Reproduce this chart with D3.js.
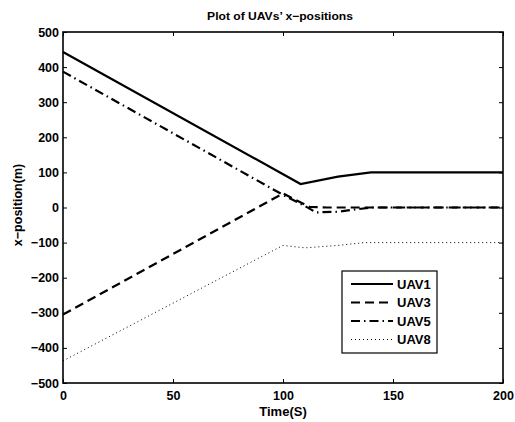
<!DOCTYPE html>
<html>
<head>
<meta charset="utf-8">
<script src="https://cdn.jsdelivr.net/npm/d3@7"></script>
<style>
  body { margin: 0; background: #fff; }
  text { font-family: "Liberation Sans", Arial, sans-serif; font-weight: bold; }
</style>
</head>
<body>
<svg width="515" height="422"></svg>
<script>
// series: [time, x-position]
const uav1 = [[0, 443], [108, 67], [125, 88], [140, 100], [200, 100]];
const uav3 = [[0, -305], [100, 40], [112, 2], [120, 0], [200, 0]];
const uav5 = [[0, 387], [100, 36], [110, 4], [115, -14], [125, -12], [140, 0], [200, 0]];
const uav8 = [[0, -437], [100, -108], [110, -115], [125, -108], [137, -100], [200, -100]];

const xTicks = [0, 50, 100, 150, 200];
const yTicks = [-500, -400, -300, -200, -100, 0, 100, 200, 300, 400, 500];

const series = [
  { name: 'UAV1', data: uav1, dash: null, width: 2.2 },
  { name: 'UAV3', data: uav3, dash: '9,5', width: 2.2 },
  { name: 'UAV5', data: uav5, dash: '9,4,1.5,4', width: 2.2 },
  { name: 'UAV8', data: uav8, dash: '1,3', width: 1 }
];

const svg = d3.select('svg');
const m = { left: 63, right: 503, top: 32, bottom: 383 };

const x = d3.scaleLinear().domain([0, 200]).range([m.left, m.right]);
const y = d3.scaleLinear().domain([-500, 500]).range([m.bottom, m.top]);

const line = d3.line().x(d => x(d[0])).y(d => y(d[1]));

// lines
svg.append('g')
  .selectAll('path')
  .data(series)
  .enter()
  .append('path')
  .attr('d', d => line(d.data))
  .attr('fill', 'none')
  .attr('stroke', '#000')
  .attr('stroke-width', d => d.width)
  .attr('stroke-dasharray', d => d.dash);

// axes, ticks pointing inward like matlab
const tk = 4;
svg.append('g')
  .attr('transform', `translate(0,${m.bottom})`)
  .call(d3.axisBottom(x).tickValues(xTicks).tickSizeInner(-tk).tickSizeOuter(0).tickPadding(8))
  .call(g => g.selectAll('text').attr('font-size', 12.5).attr('fill', '#000'));
svg.append('g')
  .attr('transform', `translate(${m.left},0)`)
  .call(d3.axisLeft(y).tickValues(yTicks).tickFormat(d => d3.format('d')(d).replace('-', '\u2212')).tickSizeInner(-tk).tickSizeOuter(0).tickPadding(4))
  .call(g => g.selectAll('text').attr('font-size', 12.5).attr('fill', '#000'));
svg.append('g')
  .attr('transform', `translate(0,${m.top})`)
  .call(d3.axisTop(x).tickValues(xTicks).tickSizeInner(-tk).tickSizeOuter(0).tickFormat(''));
svg.append('g')
  .attr('transform', `translate(${m.right},0)`)
  .call(d3.axisRight(y).tickValues(yTicks).tickSizeInner(-tk).tickSizeOuter(0).tickFormat(''));
svg.selectAll('.domain').remove();
svg.selectAll('.tick line').attr('stroke', '#000').attr('stroke-width', 1);

// box
svg.append('rect')
  .attr('x', m.left).attr('y', m.top)
  .attr('width', m.right - m.left).attr('height', m.bottom - m.top)
  .attr('fill', 'none').attr('stroke', '#000').attr('stroke-width', 1.6);

// labels
svg.append('text')
  .attr('transform', `translate(280,20) scale(1.1,1)`)
  .attr('text-anchor', 'middle').attr('font-size', 11)
  .text('Plot of UAVs\u2019 x\u2212positions');
svg.append('text')
  .attr('x', (m.left + m.right) / 2).attr('y', 416)
  .attr('text-anchor', 'middle').attr('font-size', 13)
  .text('Time(S)');
svg.append('text')
  .attr('transform', `translate(22,205) rotate(-90)`)
  .attr('text-anchor', 'middle').attr('font-size', 12.5)
  .text('x\u2212position(m)');

// legend
const lg = svg.append('g').attr('transform', 'translate(342,271)');
lg.append('rect')
  .attr('width', 95).attr('height', 82)
  .attr('fill', '#fff').attr('stroke', '#000').attr('stroke-width', 1.2);
const rows = lg.selectAll('g.row')
  .data(series)
  .enter()
  .append('g')
  .attr('transform', (d, i) => `translate(0,${13 + i * 18.5})`);
rows.append('line')
  .attr('x1', 9).attr('x2', 51)
  .attr('stroke', '#000')
  .attr('stroke-width', d => d.width)
  .attr('stroke-dasharray', d => d.dash);
rows.append('text')
  .attr('x', 55).attr('y', 4.5)
  .attr('font-size', 13)
  .text(d => d.name);
</script>
</body>
</html>
